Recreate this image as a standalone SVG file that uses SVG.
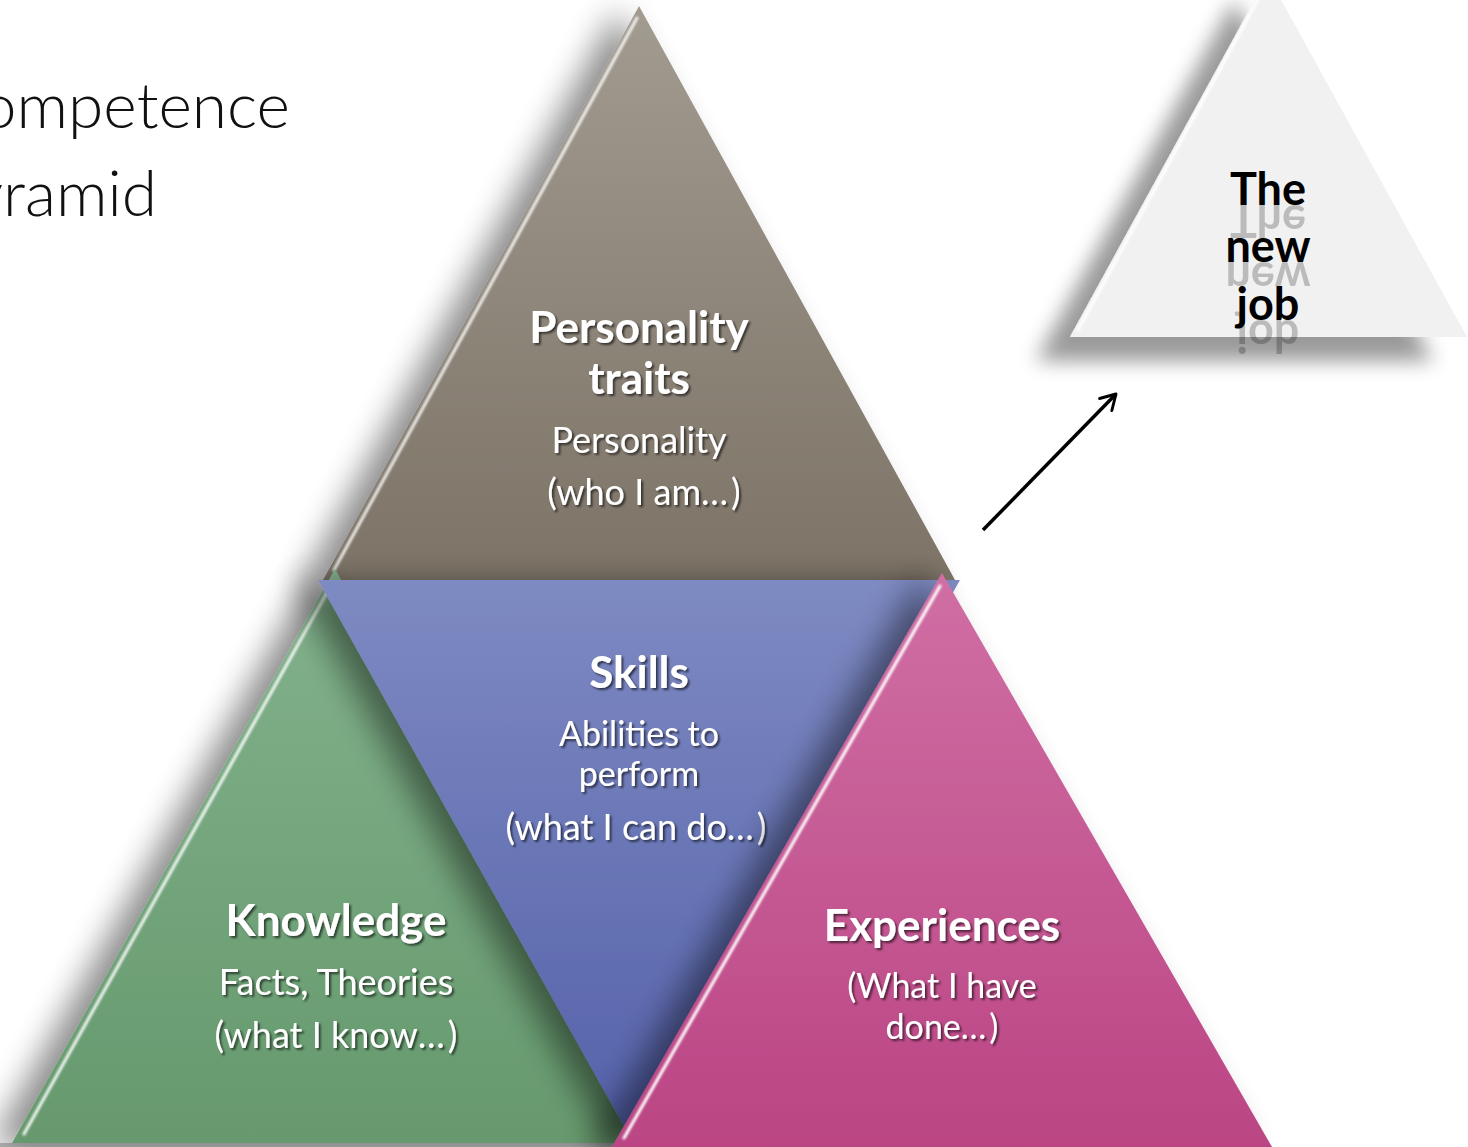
<svg xmlns="http://www.w3.org/2000/svg" xmlns:xlink="http://www.w3.org/1999/xlink" width="1468" height="1147" viewBox="0 0 1468 1147">
<defs>
  <linearGradient id="gBrown" x1="0" y1="0" x2="0" y2="1">
    <stop offset="0" stop-color="#a29b90"/>
    <stop offset="1" stop-color="#7d7367"/>
  </linearGradient>
  <linearGradient id="gGreen" x1="0" y1="0" x2="0" y2="1">
    <stop offset="0" stop-color="#82b28c"/>
    <stop offset="1" stop-color="#66996d"/>
  </linearGradient>
  <linearGradient id="gBlue" x1="0" y1="0" x2="0" y2="1">
    <stop offset="0" stop-color="#7e8ac2"/>
    <stop offset="1" stop-color="#5360a9"/>
  </linearGradient>
  <linearGradient id="gPink" x1="0" y1="0" x2="0" y2="1">
    <stop offset="0" stop-color="#d06fa4"/>
    <stop offset="1" stop-color="#bb4584"/>
  </linearGradient>
  <filter id="shTri" x="-30%" y="-10%" width="160%" height="130%">
    <feGaussianBlur in="SourceAlpha" stdDeviation="16"/>
    <feOffset dx="-22" dy="4" result="b"/>
    <feComponentTransfer><feFuncA type="linear" slope="0.45"/></feComponentTransfer>
    <feMerge><feMergeNode/><feMergeNode in="SourceGraphic"/></feMerge>
  </filter>
  <filter id="shJob" x="-30%" y="-20%" width="160%" height="150%">
    <feGaussianBlur in="SourceAlpha" stdDeviation="10"/>
    <feOffset dx="-34" dy="24" result="b"/>
    <feComponentTransfer><feFuncA type="linear" slope="0.4"/></feComponentTransfer>
    <feMerge><feMergeNode/><feMergeNode in="SourceGraphic"/></feMerge>
  </filter>
  <filter id="txtSh" x="-10%" y="-20%" width="120%" height="150%">
    <feGaussianBlur in="SourceAlpha" stdDeviation="1.2"/>
    <feOffset dx="2" dy="2"/>
    <feComponentTransfer><feFuncA type="linear" slope="0.6"/></feComponentTransfer>
    <feMerge><feMergeNode/><feMergeNode in="SourceGraphic"/></feMerge>
  </filter>
  <filter id="soft"><feGaussianBlur stdDeviation="0.8"/></filter>
  <marker id="arr" viewBox="0 0 20 20" refX="16" refY="10" markerWidth="7" markerHeight="7" orient="auto" markerUnits="strokeWidth">
    <path d="M4,3 L16,10 L4,17" fill="none" stroke="#000" stroke-width="2.4" stroke-linecap="round" stroke-linejoin="round"/>
  </marker>
  <style>
    .title{font-family:Lato,"Liberation Sans",sans-serif;font-weight:300;font-size:64px;fill:#111;}
    .hd{font-family:Lato,"Liberation Sans",sans-serif;font-weight:700;font-size:44px;fill:#fff;text-anchor:middle;}
    .sub{font-family:Lato,"Liberation Sans",sans-serif;font-weight:400;font-size:36px;fill:#fff;text-anchor:middle;}
    .sub2{font-size:34px;}
    .job{font-family:Lato,"Liberation Sans",sans-serif;font-weight:700;font-size:45px;fill:#000;text-anchor:middle;}
    .hl{fill:none;stroke:#fff;stroke-width:3;stroke-linecap:round;}
    .el{letter-spacing:3px;}
  </style>
</defs>
<rect width="1468" height="1147" fill="#ffffff"/>

<g id="title">
  <text class="title" x="290" y="128" text-anchor="end">Competence</text>
  <text class="title" x="157" y="216" text-anchor="end">Pyramid</text>
</g>

<g id="newjob">
  <polygon points="1268,-24 1070,337 1467,337" fill="#f1f1f1" filter="url(#shJob)"/>
  <line x1="1262" y1="-8" x2="1078" y2="330" class="hl" stroke-opacity="0.95" filter="url(#soft)"/>
  <text id="tj1" class="job" x="1268" y="205">The</text>
  <text id="tj2" class="job" x="1268" y="262">new</text>
  <text id="tj3" class="job" x="1268" y="320">job</text>
  <use xlink:href="#tj1" transform="translate(0,410) scale(1,-1)" opacity="0.22"/>
  <use xlink:href="#tj2" transform="translate(0,524) scale(1,-1)" opacity="0.22"/>
  <use xlink:href="#tj3" transform="translate(0,640) scale(1,-1)" opacity="0.22"/>
</g>

<rect x="0" y="1143" width="620" height="4" fill="#c4c4c4"/>

<g id="personality">
  <polygon points="639,6 323,580 955,580" fill="url(#gBrown)" filter="url(#shTri)"/>
  <line x1="637" y1="18" x2="334" y2="570" class="hl" stroke-opacity="0.85" filter="url(#soft)"/>
  <g filter="url(#txtSh)">
    <text class="hd" x="639" y="343">Personality</text>
    <text class="hd" x="639" y="394">traits</text>
    <text class="sub" x="639" y="453">Personality</text>
    <text class="sub" x="644" y="505">(who I am<tspan class="el">…</tspan>)</text>
  </g>
</g>

<g id="knowledge">
  <polygon points="335,569 12,1143 657,1143" fill="url(#gGreen)" filter="url(#shTri)"/>
  <line x1="333" y1="582" x2="24" y2="1134" class="hl" stroke-width="3.5" stroke-opacity="0.9" filter="url(#soft)"/>
  <g filter="url(#txtSh)">
    <text class="hd" x="336" y="936">Knowledge</text>
    <text class="sub" x="336" y="995">Facts, Theories</text>
    <text class="sub" x="336" y="1048">(what I know<tspan class="el">…</tspan>)</text>
  </g>
</g>

<g id="skills">
  <polygon points="318,580 960,580 639,1153" fill="url(#gBlue)" filter="url(#shTri)"/>
  <g filter="url(#txtSh)">
    <text class="hd" x="639" y="688">Skills</text>
    <text class="sub sub2" x="639" y="746">Abilities to</text>
    <text class="sub sub2" x="639" y="786">perform</text>
    <text class="sub" x="636" y="840">(what I can do<tspan class="el">…</tspan>)</text>
  </g>
</g>

<g id="experiences">
  <polygon points="942,573 612,1147 1272,1147" fill="url(#gPink)" filter="url(#shTri)"/>
  <line x1="940" y1="586" x2="624" y2="1138" class="hl" stroke="#ffd6f0" stroke-width="4" stroke-opacity="1" filter="url(#soft)"/>
  <g filter="url(#txtSh)">
    <text class="hd" x="942" y="941">Experiences</text>
    <text class="sub sub2" x="942" y="998">(What I have</text>
    <text class="sub sub2" x="942" y="1039">done<tspan class="el">…</tspan>)</text>
  </g>
</g>

<g id="connectors">
  <line x1="983" y1="530" x2="1116" y2="394" stroke="#000" stroke-width="3.5" marker-end="url(#arr)"/>
</g>
</svg>
